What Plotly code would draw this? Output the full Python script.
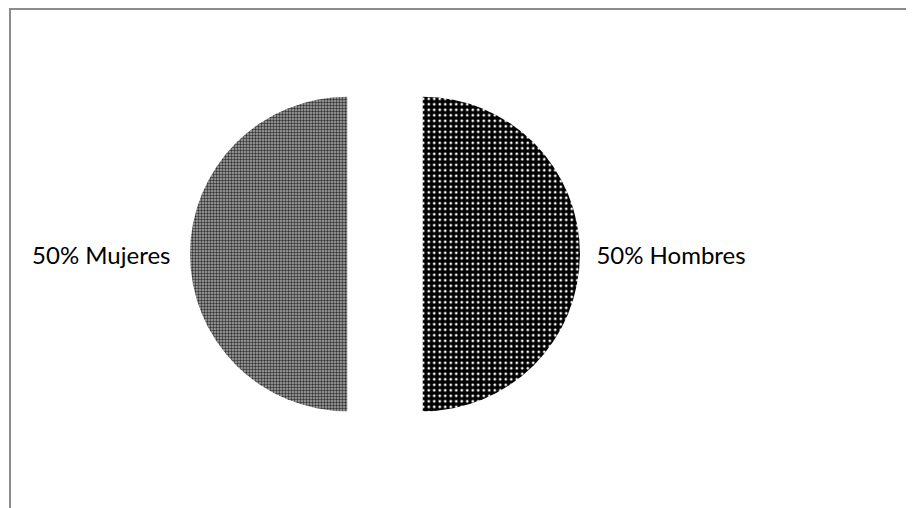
import plotly.graph_objects as go

labels = ["Hombres", "Mujeres"]
values = [50, 50]
pulls = [0.24, 0.24]
templates = ["\u00a0\u200a\u200a%{percent} %{label}", "%{percent} %{label}\u00a0\u00a0"]

W, H = 914, 508
cx, cy = 377, 246
box = 390

fig = go.Figure(go.Pie(
    labels=labels,
    values=values,
    pull=pulls,
    sort=False,
    direction="clockwise",
    rotation=0,
    textposition="outside",
    texttemplate=templates,
    textfont=dict(family="Lato", size=24, color="#000"),
    marker=dict(
        colors=["#000000", "#ffffff"],
        line=dict(width=0),
        pattern=dict(
            shape=[".", "."],
            fgcolor=["#ffffff", "#333333"],
            bgcolor=["#000000", "#ababab"],
            size=[5.5, 3],
            solidity=[0.2, 0.5],
            fillmode="replace",
        ),
    ),
    domain=dict(x=[(cx - box / 2) / W, (cx + box / 2) / W],
                y=[(H - cy - box / 2) / H, (H - cy + box / 2) / H]),
    showlegend=False,
    hoverinfo="skip",
    automargin=False,
))

fig.update_layout(
    width=W, height=H,
    margin=dict(l=0, r=0, t=0, b=0),
    paper_bgcolor="white",
    plot_bgcolor="white",
    shapes=[dict(type="rect", xref="paper", yref="paper",
                 x0=2 / W, x1=1.05, y0=-0.05, y1=1 - 1 / H,
                 line=dict(color="#8c8c8c", width=2), fillcolor="rgba(0,0,0,0)")],
)

fig.write_html("out.html")
